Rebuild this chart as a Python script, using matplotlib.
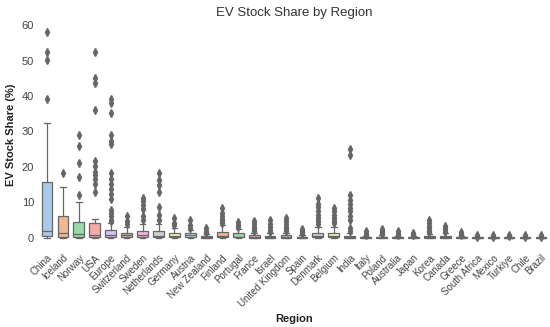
#!/usr/bin/env python3

import colorsys
import matplotlib
matplotlib.use('Agg')
import matplotlib.pyplot as plt
import matplotlib.colors as mcolors

plt.rcParams['font.family'] = ['Liberation Sans', 'DejaVu Sans']

regions = ['China', 'Iceland', 'Norway', 'USA', 'Europe', 'Switzerland', 'Sweden',
           'Netherlands', 'Germany', 'Austria', 'New Zealand', 'Finland', 'Portugal',
           'France', 'Israel', 'United Kingdom', 'Spain', 'Denmark', 'Belgium', 'India',
           'Italy', 'Poland', 'Australia', 'Japan', 'Korea', 'Canada', 'Greece',
           'South Africa', 'Mexico', 'Turkiye', 'Chile', 'Brazil']

# box stats (percent)
q1 = [0.5, 0.1, 0.3, 0.2, 0.1, 0.2, 0.2, 0.1, 0.1, 0.1, 0.0, 0.1, 0.1, 0.0, 0.0, 0.0,
      0.0, 0.1, 0.1, 0.0, 0.0, 0.0, 0.0, 0.0, 0.0, 0.0, 0.0, 0.0, 0.0, 0.0, 0.0, 0.0]
med = [2.0, 1.2, 1.1, 0.6, 0.6, 0.8, 0.8, 0.5, 0.5, 0.6, 0.1, 0.5, 0.3, 0.1, 0.1, 0.1,
       0.05, 0.4, 0.4, 0.1, 0.05, 0.05, 0.05, 0.05, 0.1, 0.1, 0.05, 0.0, 0.0, 0.0, 0.0, 0.0]
q3 = [15.6, 6.2, 4.3, 4.1, 2.1, 1.3, 2.0, 1.8, 1.2, 1.3, 0.4, 1.5, 1.2, 0.6, 0.5, 0.6,
      0.3, 1.2, 1.3, 0.5, 0.2, 0.3, 0.2, 0.2, 0.4, 0.5, 0.2, 0.05, 0.05, 0.1, 0.05, 0.05]
whislo = [0.0] * 32
whishi = [32.3, 14.2, 10.1, 5.3, 4.1, 2.9, 3.9, 3.9, 2.8, 2.2, 0.9, 3.5, 2.5, 1.4, 1.2, 1.4,
          0.7, 2.9, 3.1, 1.2, 0.5, 0.7, 0.5, 0.4, 1.0, 1.2, 0.5, 0.1, 0.1, 0.2, 0.1, 0.1]
fliers = [
    [39.2, 50.1, 52.3, 58.1],
    [18.2],
    [12.1, 17.1, 21.2, 26.0, 29.1],
    [13.0, 15.2, 16.5, 17.6, 18.6, 20.2, 21.6, 36.0, 43.7, 45.2, 52.3],
    [4.6, 5.1, 6.0, 7.0, 7.9, 10.9, 12.3, 13.7, 15.1, 16.5, 18.2, 26.5, 27.2, 29.1, 35.1, 38.1, 39.2],
    [3.8, 4.7, 6.2],
    [5.1, 6.0, 8.1, 9.3, 10.3, 11.1],
    [5.1, 6.5, 8.6, 13.0, 14.9, 16.3, 18.2],
    [3.6, 4.1, 5.5],
    [2.6, 3.5, 4.9],
    [1.2, 1.6, 2.0, 2.6],
    [4.0, 4.6, 5.3, 6.0, 7.0, 8.4],
    [3.0, 3.6, 4.3],
    [1.8, 2.4, 3.0, 3.8, 4.6],
    [1.6, 2.2, 3.0, 3.8, 4.9],
    [1.8, 2.4, 3.0, 3.8, 4.6, 5.5],
    [1.0, 1.5, 2.0, 2.4],
    [3.8, 4.6, 5.5, 6.5, 7.5, 8.6, 9.6, 11.2],
    [4.0, 4.8, 5.6, 6.5, 7.4, 8.4],
    [1.8, 2.7, 5.0, 6.2, 7.4, 8.4, 9.6, 10.7, 12.0, 23.2, 25.0],
    [0.8, 1.2, 1.8],
    [1.0, 1.5, 2.0, 2.4],
    [0.8, 1.2, 1.8],
    [0.7, 1.0, 1.3],
    [1.5, 2.0, 2.6, 3.3, 4.1, 4.9],
    [1.6, 2.2, 2.8, 3.4],
    [0.8, 1.1, 1.5],
    [0.3, 0.6],
    [0.3, 0.6],
    [0.4, 0.8],
    [0.3, 0.6],
    [0.3, 0.6],
]

pastel = ['#a1c9f4', '#ffb482', '#8de5a1', '#ff9f9b', '#d0bbff',
          '#debb9b', '#fab0e4', '#cfcfcf', '#fffea3', '#b9f2f0']


def desaturate(c, prop=0.75):
    h, l, s = colorsys.rgb_to_hls(*mcolors.to_rgb(c))
    return colorsys.hls_to_rgb(h, l, s * prop)


line_color = '#666666'

stats = []
for i, name in enumerate(regions):
    stats.append(dict(label=name, q1=q1[i], med=med[i], q3=q3[i],
                      whislo=whislo[i], whishi=whishi[i], fliers=fliers[i]))

fig = plt.figure(figsize=(5.5, 3.27), dpi=100)
ax = fig.add_axes([0.071, 0.242, 0.927, 0.691])

bp = ax.bxp(stats, positions=range(len(regions)), widths=0.68, patch_artist=True,
            showfliers=True,
            boxprops=dict(edgecolor=line_color, linewidth=0.9),
            medianprops=dict(color=line_color, linewidth=0.9),
            whiskerprops=dict(color=line_color, linewidth=0.9),
            capprops=dict(color=line_color, linewidth=0.9),
            flierprops=dict(marker='d', markersize=3.6, markerfacecolor=line_color,
                            markeredgecolor=line_color, linestyle='none'))

for i, box in enumerate(bp['boxes']):
    box.set_facecolor(desaturate(pastel[i % len(pastel)]))

ax.set_xlim(-0.5, len(regions) - 0.5)
ax.set_ylim(-2.9, 60.9)
ax.set_yticks([0, 10, 20, 30, 40, 50, 60])
ax.set_xticks(range(len(regions)))
ax.set_xticklabels(regions, rotation=45, ha='right', rotation_mode='anchor', fontsize=7,
                   color='#444444')
ax.tick_params(axis='y', labelsize=8, labelcolor='#444444')
ax.tick_params(length=0)
for s in ax.spines.values():
    s.set_visible(False)

ax.set_title('EV Stock Share by Region', fontsize=9.5, color='#333333', pad=4)
ax.set_ylabel('EV Stock Share (%)', fontsize=8, fontweight='bold', color='#222222')
ax.set_xlabel('Region', fontsize=8, fontweight='bold', color='#222222')

fig.savefig('out.png', dpi=100)
